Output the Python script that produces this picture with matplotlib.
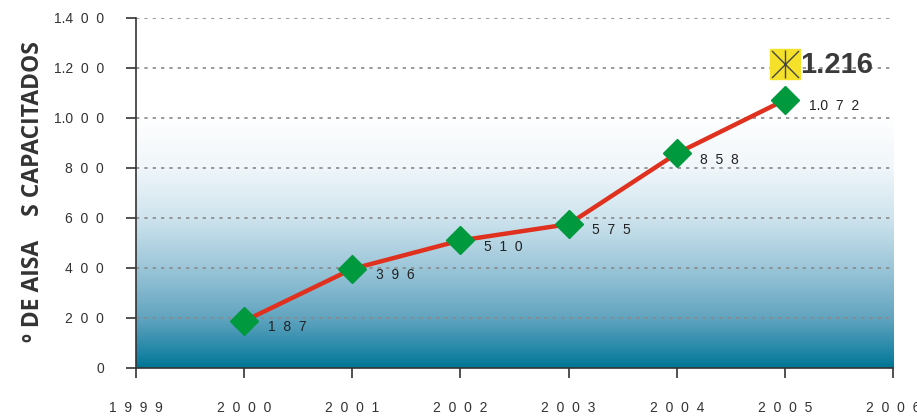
import numpy as np
import matplotlib.pyplot as plt
from matplotlib.colors import LinearSegmentedColormap

# === Data ===
years = [2000, 2001, 2002, 2003, 2004, 2005]
values = [187, 396, 510, 575, 858, 1072]
goal_year = 2005
goal_value = 1216
goal_label = "1.216"
y_ticks = [0, 200, 400, 600, 800, 1000, 1200, 1400]
x_ticks = [1999, 2000, 2001, 2002, 2003, 2004, 2005, 2006]
y_title = "º DE AISA    S CAPACITADOS"


def spaced(n):
    # 1200 -> "1.2  0  0"
    s = f"{n:,}".replace(",", ".")
    if "." in s:
        head, tail = s.split(".")
        return head + "." + "  ".join(tail)
    return "  ".join(s)


plt.rcParams['font.family'] = ['Liberation Sans', 'DejaVu Sans']

fig = plt.figure(figsize=(9.17, 4.16), dpi=100)
ax = fig.add_axes([0.148, 0.1154, 0.826, 0.8416])
ax.set_xlim(1999, 2006)
ax.set_ylim(0, 1400)

# background gradient (white at 1000 -> teal at 0)
cmap = LinearSegmentedColormap.from_list("teal", [
    (0.0, "#007594"), (0.05, "#1a83a3"), (0.2, "#62a4c0"),
    (0.4, "#9cc6d9"), (0.6, "#cfe4ee"), (0.8, "#f0f6fa"), (1.0, "#ffffff")])
grad = np.linspace(0, 1, 256).reshape(-1, 1)
ax.imshow(grad, cmap=cmap, origin="lower", aspect="auto",
          extent=[1999, 2006, 0, 1000], zorder=0)

# dotted grid
for yv in y_ticks[1:]:
    ax.axhline(yv, color="#8a8a8a", linestyle=(0, (2, 3)), linewidth=1.2, zorder=1)

# line + diamonds
ax.plot(years, values, color="#e0301e", linewidth=3.2, zorder=3)
ax.plot(years, values, linestyle="none", marker="D", markersize=14,
        markerfacecolor="#00993d", markeredgecolor="#00993d", zorder=4)

for x, v in zip(years, values):
    ax.annotate(spaced(v), (x, v), xytext=(17, -4.5), textcoords="offset points",
                ha="left", va="center", fontsize=10, color="#222222", zorder=5)

# goal marker
ax.scatter([goal_year], [goal_value], marker="s", s=470, color="#f5e12a", zorder=5)
ax.scatter([goal_year], [goal_value], marker="x", s=380, color="#444444", linewidths=1, zorder=6)
ax.scatter([goal_year], [goal_value], marker="|", s=380, color="#444444", linewidths=1, zorder=6)
ax.annotate(goal_label, (goal_year, goal_value), xytext=(11, -1), textcoords="offset points",
            ha="left", va="center", fontsize=21, fontweight="bold", color="#3a3a3a", zorder=6)

# axes styling
for side in ["top", "right"]:
    ax.spines[side].set_visible(False)
for side in ["left", "bottom"]:
    ax.spines[side].set_color("#333333")
    ax.spines[side].set_linewidth(1.2)

ax.set_yticks(y_ticks)
ax.set_yticklabels([spaced(v) for v in y_ticks])
ax.set_xticks(x_ticks)
ax.set_xticklabels(["  ".join(str(y)) for y in x_ticks])
ax.tick_params(axis="y", direction="out", length=7, width=1.2, color="#333333",
               pad=16, labelsize=10, labelcolor="#333333")
ax.tick_params(axis="x", direction="out", length=7, width=1.2, color="#333333",
               pad=17, labelsize=10, labelcolor="#333333")

fig.text(0.036, 0.54, y_title, rotation=90, ha="center", va="center",
         fontsize=16.5, fontweight="bold", color="#333333", family=["Open Sans", "DejaVu Sans"])

fig.savefig("out.png", dpi=100)
